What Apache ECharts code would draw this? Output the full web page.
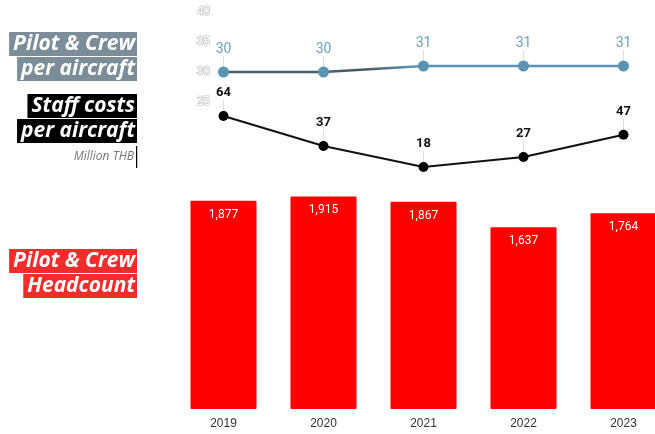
<!DOCTYPE html>
<html>
<head>
<meta charset="utf-8">
<script src="https://cdn.jsdelivr.net/npm/echarts@6/dist/echarts.min.js"></script>
<style>
  html, body { margin: 0; padding: 0; background: #fff; }
  #chart { width: 655px; height: 434px; }
</style>
</head>
<body>
<div id="chart"></div>
<script>
// Yearly categories shared by all three panels
const years = ['2019', '2020', '2021', '2022', '2023'];
// Pilot & crew per aircraft
const crewPerAircraft = [30, 30, 31, 31, 31];
// Staff costs per aircraft, million THB
const staffCostPerAircraft = [64, 37, 18, 27, 47];
// Pilot & crew headcount
const crewHeadcount = [1877, 1915, 1867, 1637, 1764];
// Tick values on the crew-per-aircraft axis
const crewAxisTicks = { min: 25, max: 40, interval: 5 };

const BLUE = '#5b94b3';
const RED = '#ff0000';
const titleFont = 'italic bold 21px "Open Sans", sans-serif';

const gridLeft = 173.5, gridWidth = 500;

function xAxisFor(gridIndex, showLabels) {
  return {
    type: 'category', gridIndex, data: years,
    axisLine: { show: false }, axisTick: { show: false },
    axisLabel: showLabels ? { color: '#333', fontSize: 12, margin: 9, fontFamily: 'Liberation Sans, Arial, sans-serif' } : { show: false }
  };
}

function gridAt(top, height) {
  return { left: gridLeft, width: gridWidth, top, height, containLabel: false, outerBoundsMode: 'none' };
}

// Thin guide line between each point and its value label
function leaderSeries(xi, yi, values) {
  return {
    type: 'custom', xAxisIndex: xi, yAxisIndex: yi, silent: true, z: 1,
    data: values.map((v, i) => [i, v]),
    renderItem: (params, api) => {
      const p = api.coord([api.value(0), api.value(1)]);
      return {
        type: 'line',
        shape: { x1: p[0], y1: p[1] - 5, x2: p[0], y2: p[1] - 16 },
        style: { stroke: '#dcdcdc', lineWidth: 1 }
      };
    }
  };
}

function tag(text, right, cy, bg, padLeft) {
  return {
    type: 'text', x: right, y: cy,
    style: {
      text, font: titleFont, fill: '#fff', align: 'right', verticalAlign: 'middle',
      backgroundColor: bg, padding: [2, 2, 1, padLeft]
    }
  };
}

// Crew line stroke: darker slate on the early years, settling into steel blue
const crewStroke = new echarts.graphic.LinearGradient(0, 0, 1, 0, [
  { offset: 0, color: '#4a5c68' },
  { offset: 0.36, color: '#4a5c68' },
  { offset: 0.47, color: BLUE },
  { offset: 1, color: BLUE }
]);

const chart = echarts.init(document.getElementById('chart'), null, { renderer: 'canvas' });
chart.setOption({
  animation: false,
  grid: [gridAt(12, 90), gridAt(76, 111), gridAt(187, 222)],
  xAxis: [xAxisFor(0, false), xAxisFor(1, false), xAxisFor(2, true)],
  yAxis: [
    {
      type: 'value', gridIndex: 0, min: crewAxisTicks.min, max: crewAxisTicks.max, interval: crewAxisTicks.interval,
      offset: -44.5,
      axisLine: { show: false }, axisTick: { show: false }, splitLine: { show: false },
      axisLabel: { color: '#fafafa', textBorderColor: '#bdbdbd', textBorderWidth: 1.2, fontSize: 12, margin: 8 }
    },
    { type: 'value', gridIndex: 1, min: 0, max: 100, show: false, splitLine: { show: false } },
    { type: 'value', gridIndex: 2, min: 0, max: 2000, show: false, splitLine: { show: false } }
  ],
  series: [
    {
      type: 'bar', xAxisIndex: 2, yAxisIndex: 2, data: crewHeadcount,
      barWidth: '66%',
      itemStyle: { color: RED, borderRadius: 1 },
      label: {
        show: true, position: 'insideTop', distance: 8, color: '#fff', fontSize: 12,
        fontFamily: 'Roboto, sans-serif',
        formatter: p => p.value.toLocaleString('en-US')
      }
    },
    leaderSeries(1, 1, staffCostPerAircraft),
    leaderSeries(0, 0, crewPerAircraft),
    {
      type: 'line', xAxisIndex: 1, yAxisIndex: 1, data: staffCostPerAircraft, z: 3,
      symbol: 'circle', symbolSize: 10,
      lineStyle: { color: '#111', width: 2 },
      itemStyle: { color: '#000' },
      label: {
        show: true, position: 'top', distance: 12, color: '#111', fontWeight: 'bold', fontSize: 13,
        fontFamily: 'Roboto, sans-serif'
      }
    },
    {
      type: 'line', xAxisIndex: 0, yAxisIndex: 0, data: crewPerAircraft, z: 3,
      symbol: 'circle', symbolSize: 11,
      lineStyle: { color: crewStroke, width: 2.5 },
      itemStyle: { color: BLUE },
      label: {
        show: true, position: 'top', distance: 10, color: '#6fa0bb', fontSize: 14,
        textBorderColor: '#fff', textBorderWidth: 2, fontFamily: 'Roboto, sans-serif'
      }
    }
  ],
  graphic: [
    tag('Pilot & Crew', 137, 44, '#7b8d98', 4),
    tag('per aircraft', 137, 69, '#7b8d98', 4),
    tag('Staff costs', 137, 106, '#000', 4),
    tag('per aircraft', 137, 131, '#000', 4),
    {
      type: 'text', x: 134, y: 157,
      style: { text: 'Million THB', font: 'italic 12px "Open Sans", sans-serif', fill: '#777', align: 'right', verticalAlign: 'middle' }
    },
    { type: 'rect', shape: { x: 136, y: 146, width: 1.2, height: 22 }, style: { fill: '#000' } },
    tag('Pilot & Crew', 137, 261, '#f22b2b', 4),
    tag('Headcount', 137, 286, '#f22b2b', 4)
  ]
});
</script>
</body>
</html>
